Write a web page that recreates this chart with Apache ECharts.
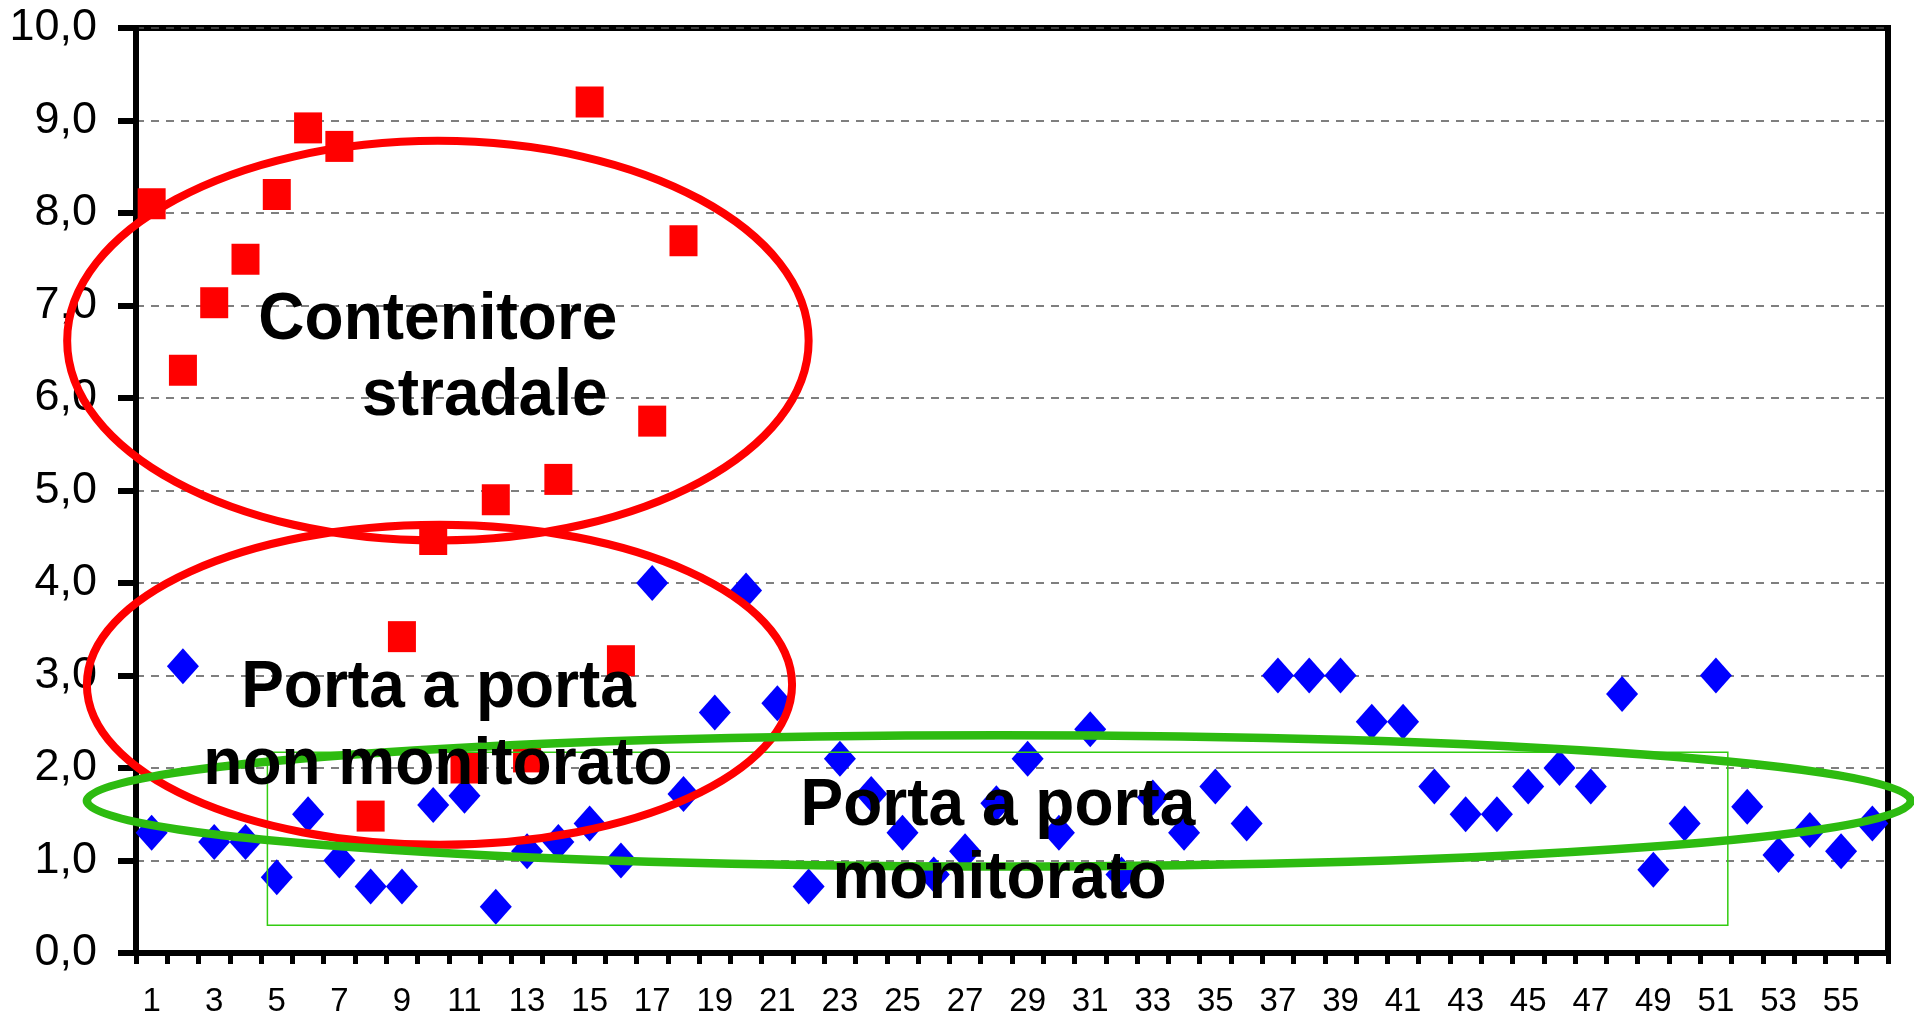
<!DOCTYPE html>
<html>
<head>
<meta charset="utf-8">
<script src="https://cdn.jsdelivr.net/npm/echarts@6/dist/echarts.min.js"></script>
<style>
  html, body { margin: 0; padding: 0; background: #fff; }
  #chart { width: 1914px; height: 1018px; }
</style>
</head>
<body>
<div id="chart"></div>
<script>
// ---- data ----
const categories = Array.from({ length: 56 }, (_, i) => String(i + 1));
const yTicks = [0, 1, 2, 3, 4, 5, 6, 7, 8, 9, 10];

// red squares (categories 1..18)
const redValues = [8.1, 6.3, 7.03, 7.5, 8.2, 8.92, 8.72, 1.48, 3.42, 4.47, 2.0, 4.9, 2.12, 5.12, 9.2, 3.16, 5.75, 7.7];

// blue diamonds (categories 1..56)
const blueValues = [
  1.3, 3.1, 1.2, 1.2, 0.82, 1.5, 1.0, 0.72, 0.72, 1.6,
  1.7, 0.5, 1.1, 1.2, 1.4, 1.0, 4.0, 1.72, 2.6, 3.92,
  2.7, 0.72, 2.1, 1.72, 1.3, 0.85, 1.1, 1.62, 2.1, 1.3,
  2.42, 0.85, 1.68, 1.3, 1.8, 1.4, 3.0, 3.0, 3.0, 2.5,
  2.5, 1.8, 1.5, 1.5, 1.8, 2.0, 1.8, 2.8, 0.9, 1.4,
  3.0, 1.58, 1.06, 1.33, 1.1, 1.4
];

// annotations, in data coordinates (category number, value)
const ellipseShapes = [
  { name: 'red1', cx: 10.15, cy: 6.62, rx: 11.85, ry: 2.16, color: '#FF0000', w: 8 },
  { name: 'red2', cx: 10.2, cy: 2.9, rx: 11.27, ry: 1.73, color: '#FF0000', w: 8 },
  { name: 'green', cx: 28.08, cy: 1.645, rx: 29.15, ry: 0.71, color: '#2DBB10', w: 8.5 }
];
const boxShape = { c1: 4.7, c2: 51.38, vTop: 2.17, vBottom: 0.3 };
const labelTexts = [
  { text: 'Contenitore', c: 10.15, v: 6.84 },
  { text: 'stradale', c: 11.65, v: 6.01 },
  { text: 'Porta a porta', c: 10.17, v: 2.86 },
  { text: 'non monitorato', c: 10.15, v: 2.02 },
  { text: 'Porta a porta', c: 28.05, v: 1.58 },
  { text: 'monitorato', c: 28.1, v: 0.79 }
];

// ---- chart ----
const chart = echarts.init(document.getElementById('chart'), null, { renderer: 'canvas' });
const FONT = '"Liberation Sans", Arial, sans-serif';

chart.setOption({
  animation: false,
  backgroundColor: '#fff',
  grid: {
    left: 136, right: 26, top: 28, bottom: 63.5,
    show: true, borderColor: '#000', borderWidth: 6, containLabel: false
  },
  xAxis: {
    type: 'category',
    data: categories,
    boundaryGap: true,
    axisLine: { show: true, onZero: false, lineStyle: { color: '#000', width: 6 } },
    axisTick: { show: true, interval: 0, inside: false, length: 11, lineStyle: { color: '#000', width: 5 } },
    axisLabel: { interval: 1, color: '#000', fontSize: 33, fontFamily: FONT, margin: 32 },
    splitLine: { show: false }
  },
  yAxis: {
    type: 'value',
    min: yTicks[0], max: yTicks[yTicks.length - 1], interval: 1,
    axisLine: { show: true, lineStyle: { color: '#000', width: 6 } },
    axisTick: { show: true, length: 18, lineStyle: { color: '#000', width: 6 } },
    axisLabel: {
      color: '#000', fontSize: 45, fontFamily: FONT, margin: 39,
      formatter: v => v.toFixed(1).replace('.', ',')
    },
    splitLine: { show: true, lineStyle: { color: '#555', width: 1.5, type: [8, 7] } }
  },
  series: [
    {
      name: 'Contenitore stradale',
      type: 'scatter',
      data: redValues,
      symbol: 'rect',
      symbolSize: [28, 31],
      itemStyle: { color: '#FF0000', opacity: 1 },
      z: 3
    },
    {
      name: 'Porta a porta',
      type: 'scatter',
      data: blueValues,
      symbol: 'diamond',
      symbolSize: [32, 36],
      itemStyle: { color: '#0000FF', opacity: 1 },
      z: 2
    }
  ]
});

function toPx(c, v) {
  const a = chart.convertToPixel({ gridIndex: 0 }, [0, v]);
  const b = chart.convertToPixel({ gridIndex: 0 }, [1, v]);
  return [a[0] + (c - 1) * (b[0] - a[0]), a[1]];
}
function catWidth() {
  const a = chart.convertToPixel({ gridIndex: 0 }, [0, 0]);
  const b = chart.convertToPixel({ gridIndex: 0 }, [1, 0]);
  return b[0] - a[0];
}
function unitHeight() {
  const a = chart.convertToPixel({ gridIndex: 0 }, [0, 0]);
  const b = chart.convertToPixel({ gridIndex: 0 }, [0, 1]);
  return a[1] - b[1];
}

const cw = catWidth();
const uh = unitHeight();
const graphics = [];

const p1 = toPx(boxShape.c1, boxShape.vTop);
const p2 = toPx(boxShape.c2, boxShape.vBottom);
graphics.push({
  type: 'rect', z: 50,
  shape: { x: p1[0], y: p1[1], width: p2[0] - p1[0], height: p2[1] - p1[1] },
  style: { fill: 'none', stroke: '#33CC11', lineWidth: 1.5 }
});

ellipseShapes.forEach(e => {
  const c = toPx(e.cx, e.cy);
  graphics.push({
    type: 'ellipse', z: 60,
    shape: { cx: c[0], cy: c[1], rx: e.rx * cw, ry: e.ry * uh },
    style: { fill: 'none', stroke: e.color, lineWidth: e.w }
  });
});

labelTexts.forEach(t => {
  const p = toPx(t.c, t.v);
  graphics.push({
    type: 'text', z: 100,
    x: p[0], y: p[1],
    scaleY: 1.04,
    style: {
      text: t.text,
      font: 'bold 64px ' + FONT,
      fill: '#000',
      textAlign: 'center', textVerticalAlign: 'middle',
      align: 'center', verticalAlign: 'middle'
    }
  });
});

chart.setOption({ graphic: { elements: graphics } });
</script>
</body>
</html>
